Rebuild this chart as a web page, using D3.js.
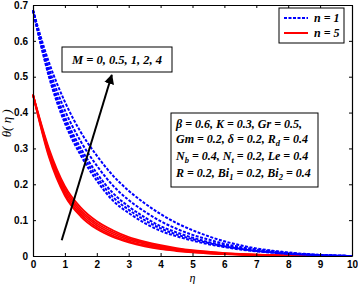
<!DOCTYPE html>
<html>
<head>
<meta charset="utf-8">
<script src="https://cdn.jsdelivr.net/npm/d3@7"></script>
<style>
  body { margin: 0; background: #fff; }
  svg { display: block; }
</style>
</head>
<body>
<div id="chart"></div>
<script>
// eta grid
const eta = [0,0.5,1,1.5,2,2.5,3,3.5,4,4.5,5,5.5,6,6.5,7,7.5,8,8.5,9,9.5,10];

// n = 1, M = 4 ... 0 (top to bottom)
const blueM4 = [0.685,0.54,0.43,0.345,0.28,0.225,0.182,0.147,0.117,0.092,0.072,0.055,0.041,0.03,0.021,0.015,0.01,0.006,0.003,0.001,0];
const blueM2 = [0.685,0.524,0.406,0.319,0.252,0.197,0.156,0.124,0.097,0.076,0.059,0.046,0.034,0.025,0.018,0.013,0.008,0.005,0.003,0.001,0];
const blueM1 = [0.685,0.512,0.388,0.3,0.231,0.176,0.138,0.108,0.083,0.066,0.051,0.039,0.03,0.022,0.015,0.011,0.007,0.005,0.002,0.001,0];
const blueM05 = [0.685,0.506,0.379,0.29,0.22,0.165,0.129,0.1,0.077,0.06,0.047,0.036,0.027,0.02,0.014,0.01,0.006,0.004,0.002,0.001,0];
const blueM0 = [0.685,0.5,0.37,0.28,0.21,0.155,0.12,0.092,0.07,0.055,0.043,0.033,0.025,0.018,0.013,0.009,0.006,0.004,0.002,0.001,0];

// n = 5
const redM4 = [0.45,0.3,0.195,0.135,0.097,0.072,0.053,0.04,0.03,0.022,0.016,0.012,0.008,0.006,0.004,0.003,0.002,0.001,0.001,0,0];
const redM2 = [0.45,0.294,0.188,0.128,0.091,0.067,0.049,0.037,0.027,0.02,0.014,0.011,0.007,0.005,0.004,0.002,0.002,0.001,0.001,0,0];
const redM1 = [0.45,0.288,0.181,0.122,0.086,0.062,0.045,0.034,0.025,0.018,0.013,0.01,0.007,0.005,0.003,0.002,0.001,0.001,0,0,0];
const redM05 = [0.45,0.282,0.174,0.116,0.08,0.057,0.041,0.03,0.022,0.016,0.011,0.008,0.006,0.004,0.002,0.001,0.001,0.001,0,0,0];
const redM0 = [0.45,0.276,0.168,0.11,0.075,0.053,0.038,0.027,0.019,0.014,0.01,0.007,0.005,0.003,0.002,0.001,0.001,0,0,0,0];

const blueSeries = [blueM4, blueM2, blueM1, blueM05, blueM0];
const redSeries = [redM4, redM2, redM1, redM05, redM0];

const xTicks = [0,1,2,3,4,5,6,7,8,9,10];
const yTicks = [0,0.1,0.2,0.3,0.4,0.5,0.6,0.7];

const W = 358, H = 284;
const margin = { top: 5, right: 6, bottom: 28, left: 33 };
const plotW = W - margin.left - margin.right;
const plotH = H - margin.top - margin.bottom;

const svg = d3.select("#chart").append("svg")
  .attr("width", W).attr("height", H);

const g = svg.append("g")
  .attr("transform", `translate(${margin.left},${margin.top})`);

const x = d3.scaleLinear().domain([0, 10]).range([0, plotW]);
const y = d3.scaleLinear().domain([0, 0.7]).range([plotH, 0]);

const line = d3.line()
  .x((d, i) => x(eta[i]))
  .y(d => y(d))
  .curve(d3.curveMonotoneX);

// curves
g.selectAll("path.red")
  .data(redSeries)
  .join("path")
    .attr("class", "red")
    .attr("d", line)
    .attr("fill", "none")
    .attr("stroke", "#ff0000")
    .attr("stroke-width", 1.8);

g.selectAll("path.blue")
  .data(blueSeries)
  .join("path")
    .attr("class", "blue")
    .attr("d", line)
    .attr("fill", "none")
    .attr("stroke", "#0000ff")
    .attr("stroke-width", 2)
    .attr("stroke-dasharray", "3,1.5");

// axes (ticks inside, matlab style)
const tickFont = "bold 10px 'Liberation Sans', Arial, sans-serif";

g.append("g")
  .attr("transform", `translate(0,${plotH})`)
  .call(d3.axisBottom(x).tickValues(xTicks).tickSizeInner(-3).tickSizeOuter(0).tickPadding(5));
g.append("g")
  .call(d3.axisLeft(y).tickValues(yTicks).tickSizeInner(-3).tickSizeOuter(0).tickPadding(5)
    .tickFormat(d => d === 0 ? "0" : d3.format(".1f")(d)));
g.append("g")
  .call(d3.axisTop(x).tickValues(xTicks).tickSizeInner(-3).tickSizeOuter(0).tickFormat(""));
g.append("g")
  .attr("transform", `translate(${plotW},0)`)
  .call(d3.axisRight(y).tickValues(yTicks).tickSizeInner(-3).tickSizeOuter(0).tickFormat(""));

g.selectAll(".tick text").style("font", tickFont).attr("fill", "#000");
g.selectAll(".domain").attr("stroke", "#000").attr("stroke-width", 1.2);
g.selectAll(".tick line").attr("stroke", "#000");

// axis titles
svg.append("text")
  .attr("x", margin.left + x(5))
  .attr("y", 282)
  .attr("text-anchor", "middle")
  .style("font", "italic 12px 'Liberation Serif', 'Times New Roman', serif")
  .text("η");

svg.append("text")
  .attr("transform", `translate(11,${margin.top + y(0.37)}) rotate(-90)`)
  .attr("text-anchor", "middle")
  .style("font", "italic 13px 'Liberation Serif', 'Times New Roman', serif")
  .text("θ( η )");

// legend
const legend = svg.append("g").attr("transform", "translate(279,8)");
legend.append("rect")
  .attr("width", 65).attr("height", 35)
  .attr("fill", "#fff").attr("stroke", "#000");
const legendItems = [
  { label: "n = 1", color: "#0000ff", dash: "3,1.5" },
  { label: "n = 5", color: "#ff0000", dash: null }
];
legendItems.forEach((d, i) => {
  const ly = 10 + i * 15;
  legend.append("line")
    .attr("x1", 5).attr("x2", 29).attr("y1", ly).attr("y2", ly)
    .attr("stroke", d.color).attr("stroke-width", 2)
    .attr("stroke-dasharray", d.dash);
  legend.append("text")
    .attr("x", 35).attr("y", ly + 4)
    .style("font", "bold italic 12px 'Liberation Serif', 'Times New Roman', serif")
    .text(d.label);
});

// M annotation
const serifBI = "bold italic 12px 'Liberation Serif', 'Times New Roman', serif";
svg.append("rect")
  .attr("x", 62).attr("y", 47).attr("width", 110).attr("height", 25)
  .attr("fill", "#fff").attr("stroke", "#000");
svg.append("text")
  .attr("x", 117).attr("y", 64)
  .attr("text-anchor", "middle")
  .style("font", "bold italic 12.5px 'Liberation Serif', 'Times New Roman', serif")
  .text("M = 0, 0.5, 1, 2, 4");

// arrow
svg.append("defs").append("marker")
  .attr("id", "arrowHead")
  .attr("viewBox", "0 0 10 10")
  .attr("refX", 9).attr("refY", 5)
  .attr("markerWidth", 5).attr("markerHeight", 6)
  .attr("markerUnits", "strokeWidth")
  .attr("orient", "auto")
  .append("path")
    .attr("d", "M0,0 L10,5 L0,10 Z")
    .attr("fill", "#000");
g.append("line")
  .attr("x1", x(0.9)).attr("y1", y(0.044))
  .attr("x2", x(2.47)).attr("y2", y(0.505))
  .attr("stroke", "#000").attr("stroke-width", 2)
  .attr("marker-end", "url(#arrowHead)");

// parameter box
svg.append("rect")
  .attr("x", 171).attr("y", 113).attr("width", 147).attr("height", 74)
  .attr("fill", "#fff").attr("stroke", "#000");

const paramLines = [
  [["β = 0.6, K = 0.3, Gr = 0.5,"]],
  [["Gm = 0.2, δ = 0.2, R"], ["d", "sub"], [" = 0.4"]],
  [["N"], ["b", "sub"], [" = 0.4, N"], ["t", "sub"], [" = 0.2, Le = 0.4"]],
  [["R = 0.2, Bi"], ["1", "sub"], [" = 0.2, Bi"], ["2", "sub"], [" = 0.4"]]
];
const paramY = [128, 143, 160, 177];
paramLines.forEach((parts, i) => {
  const t = svg.append("text")
    .attr("x", 176).attr("y", paramY[i])
    .style("font", serifBI);
  parts.forEach(p => {
    if (p[1] === "sub") {
      t.append("tspan").attr("dy", 3).style("font-size", "8.5px").text(p[0]);
    } else {
      const ts = t.append("tspan").text(p[0]);
      if (t.selectAll("tspan").size() > 1) ts.attr("dy", -3);
    }
  });
});
</script>
</body>
</html>
